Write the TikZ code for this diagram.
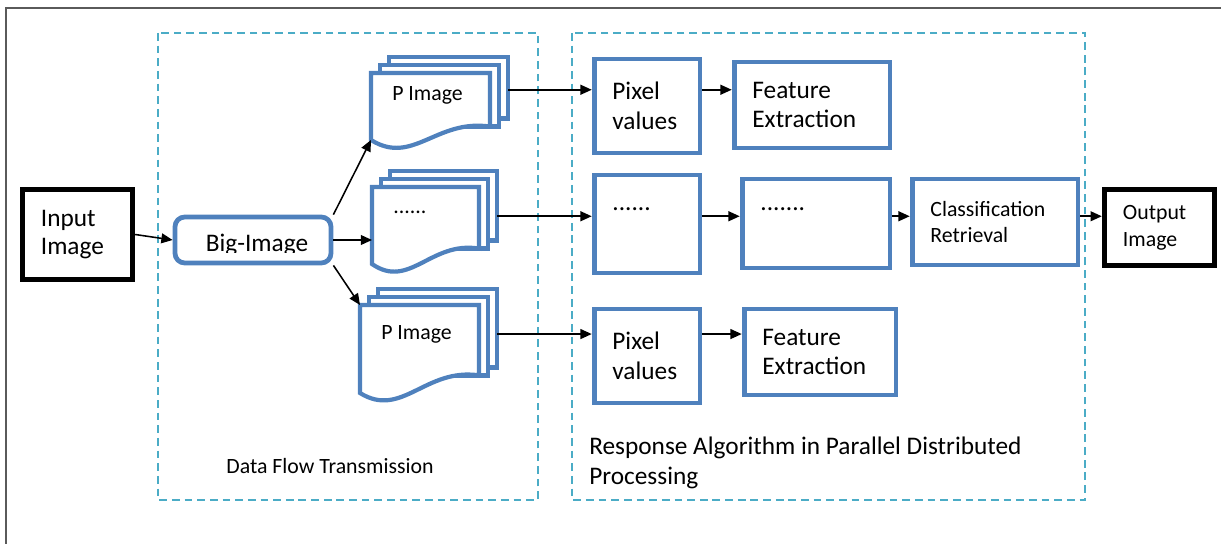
\documentclass[tikz,border=0pt]{standalone}
\usepackage{fontspec}
\setmainfont{Carlito}
\usetikzlibrary{arrows.meta}

\definecolor{boxblue}{RGB}{79,129,189}
\definecolor{regioncyan}{RGB}{75,172,198}
\definecolor{framegray}{RGB}{90,90,90}

\tikzset{
  bluebox/.style={draw=boxblue, line width=3.4pt, inner xsep=13pt, align=left, font=\fontsize{18}{21}\selectfont},
  blackbox/.style={draw=black, line width=4pt, inner xsep=13pt, align=left, font=\fontsize{18}{20.5}\selectfont},
  sheet/.style={draw=boxblue, line width=3pt, fill=white, line join=miter},
  region/.style={draw=regioncyan, line width=1.7pt, dash pattern=on 5.5pt off 3.5pt},
  flow/.style={-{Triangle[length=8pt,width=7pt]}, line width=1.1pt},
}

% stack of three sheets: [level of outgoing arrow], name, x, y of front sheet, width, height, text
\newcommand{\pagestack}[7][0.33]{
  \foreach \k in {2,1}
    \draw[sheet] (#3+9*\k,#4-8*\k) rectangle (#3+9*\k+#5,#4+0.8*#6-8*\k+8);
  \draw[sheet] (#3,#4) -- (#3+#5,#4) -- (#3+#5,#4+0.8*#6)
    .. controls (#3+0.55*#5,#4+0.8*#6-8) and (#3+0.35*#5,#4+#6+26) .. (#3,#4+#6) -- cycle;
  \coordinate (#2-nw) at (#3,#4);
  \coordinate (#2-sw) at (#3,#4+#6);
  \coordinate (#2-out) at (#3+18+#5,#4+#1*#6);
  \node[anchor=west, inner sep=0pt, font=\fontsize{15.5}{18}\selectfont] (#2) at (#3+21,#4+0.33*#6) {#7};
}

\begin{document}
\begin{tikzpicture}[x=0.025cm, y=-0.025cm]
    \useasboundingbox (0,0) rectangle (1221,544);

    % Frame
    \draw[framegray, line width=1.4pt] (6,544) |- (1221,8);

    % Dashed regions
    \draw[region] (158,33) rectangle (538,500);
    \draw[region] (572,33) rectangle (1085,500);

    % Input and split
    \node[blackbox, text width=1.83cm, minimum height=2.25cm] (input) at (77.5,234.5) {Input\\Image};
    \node[draw=boxblue, line width=3.4pt, rounded corners=7pt, minimum width=3.9cm, minimum height=1.15cm] (big) at (253,240) {};
    \begin{scope}
        \clip (173,215) rectangle (333,253);
        \node[anchor=base, inner sep=0pt, font=\fontsize{18}{21}\selectfont] (bigtext) at (257,252) {Big-Image};
    \end{scope}

    % Sheet stacks
    \pagestack[0.25]{top}{371}{73}{119}{67}{P Image}
    \pagestack[0.38]{mid}{372}{187}{107}{77}{......}
    \pagestack{bot}{360}{305}{119}{88}{P Image}

    % Processing boxes
    \node[bluebox, text width=1.73cm, minimum height=2.35cm] (pix1) at (647,106) {Pixel\\values};
    \node[bluebox, text width=2.98cm, minimum height=2.15cm] (feat1) at (812,105) {Feature\\Extraction};
    \node[bluebox, text width=1.73cm, minimum height=2.45cm] (dot1) at (647,224) {......\\\mbox{}};
    \node[bluebox, text width=2.78cm, minimum height=2.225cm] (dot2) at (816,223.5) {.......\\\mbox{}};
    \node[bluebox, text width=3.23cm, minimum height=2.15cm, font=\fontsize{15.5}{19}\selectfont] (cls) at (995,222) {Classification\\Retrieval};
    \node[bluebox, text width=1.73cm, minimum height=2.35cm] (pix2) at (647,356) {Pixel\\values};
    \node[bluebox, text width=2.88cm, minimum height=2.15cm] (feat2) at (820,352) {Feature\\Extraction};
    \node[blackbox, text width=1.83cm, minimum height=1.9cm, font=\fontsize{15.5}{19}\selectfont] (out) at (1159.5,227.5) {Output\\Image};

    % Arrows into the stacks
    \draw[flow] (input.east) -- (big.west);
    \draw[flow] (big.north east) -- (top-sw);
    \draw[flow] (big.east) -- (big.east -| mid-nw);
    \draw[flow] (big.south east) -- (bot-nw);

    % Arrows along the rows
    \draw[flow] (top-out) -- (top-out -| pix1.west);
    \draw[flow] (mid-out) -- (mid-out -| dot1.west);
    \draw[flow] (bot-out) -- (bot-out -| pix2.west);
    \draw[flow] (pix1.east |- top-out) -- (feat1.west |- top-out);
    \draw[flow] (dot1.east |- mid-out) -- (dot2.west |- mid-out);
    \draw[flow] (dot2.east |- mid-out) -- (cls.west |- mid-out);
    \draw[flow] (cls.east |- mid-out) -- (out.west |- mid-out);
    \draw[flow] (pix2.east |- bot-out) -- (feat2.west |- bot-out);

    % Region labels
    \node[font=\fontsize{15.5}{18}\selectfont] (dft) at (330,466) {Data Flow Transmission};
    \node[anchor=west, align=left, inner sep=0pt, font=\fontsize{18}{21.3}\selectfont] (rap) at (589,463) {Response Algorithm in Parallel Distributed\\Processing};
\end{tikzpicture}
\end{document}
